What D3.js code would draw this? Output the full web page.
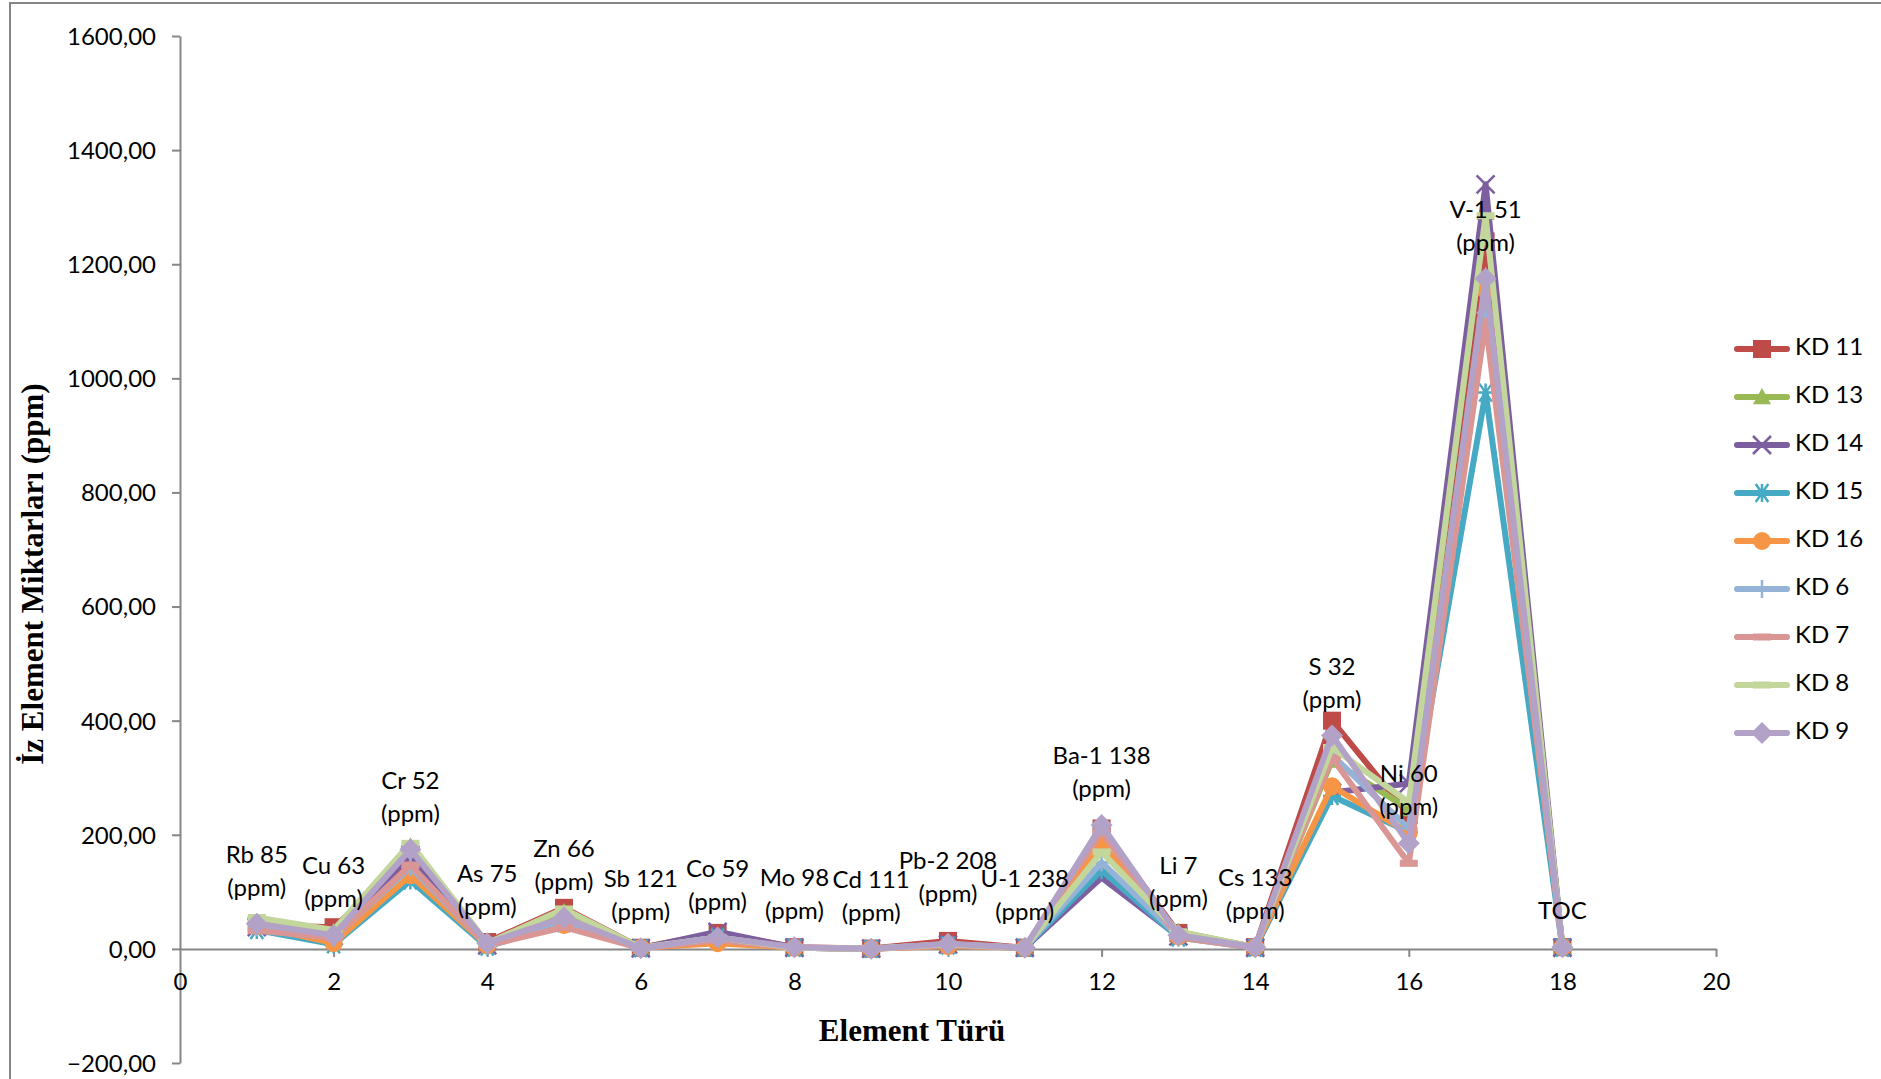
<!DOCTYPE html>
<html><head><meta charset="utf-8">
<script src="https://cdn.jsdelivr.net/npm/d3@7"></script>
<style>html,body{margin:0;padding:0;background:#fff;overflow:hidden}</style>
</head><body>
<svg id="c" width="1881" height="1079"></svg>
<script>
// ---------- DATA ----------
const categories = ["Rb 85\n(ppm)","Cu 63\n(ppm)","Cr 52\n(ppm)","As 75\n(ppm)","Zn 66\n(ppm)","Sb 121\n(ppm)",
  "Co 59\n(ppm)","Mo 98\n(ppm)","Cd 111\n(ppm)","Pb-2 208\n(ppm)","U-1 238\n(ppm)","Ba-1 138\n(ppm)",
  "Li 7\n(ppm)","Cs 133\n(ppm)","S 32\n(ppm)","Ni 60\n(ppm)","V-1 51\n(ppm)","TOC"];
const xPositions = [1,2,3,4,5,6,7,8,9,10,11,12,13,14,15,16,17,18];
const seriesNames = ["KD 11","KD 13","KD 14","KD 15","KD 16","KD 6","KD 7","KD 8","KD 9"];
const kd11 = [42,38,155,12,72,2,28,3,0.5,14,2,211,28,3,400,235,1240,3];
const kd13 = [45,30,180,8,65,2,22,2,0.5,8,2,175,30,3,330,245,1290,3];
const kd14 = [38,22,165,6,50,1,30,2,0.3,8,2,125,22,2,274,290,1340,2];
const kd15 = [33,8,120,4,45,1,20,2,0.3,6,2,138,20,2,268,205,975,2];
const kd16 = [40,10,129,6,42,2,10,2,0.4,5,2,185,22,3,285,203,1155,3];
const kd6  = [38,20,143,6,48,1,20,2,0.3,8,2,152,22,2,340,211,1115,2];
const kd7  = [32,19,147,6,38,1,15,2,0.3,6,2,205,20,2,335,150,1100,2];
const kd8  = [55,33,185,10,70,2,20,2,0.4,8,2,170,30,3,353,257,1285,3];
const kd9  = [44,24,174,10,55,1,20,3,0.4,9,2,217,24,3,374,185,1175,3];
const yTickValues = [-200,0,200,400,600,800,1000,1200,1400,1600];
const xTickValues = [0,2,4,6,8,10,12,14,16,18,20];
const xTitle = "Element Türü";
const yTitle = "İz Element Miktarları (ppm)";

// ---------- STYLE ----------
const seriesValues = [kd11,kd13,kd14,kd15,kd16,kd6,kd7,kd8,kd9];
const colors = ["#BE4B48","#98B954","#7D5FA0","#46AAC5","#F69546","#95B3D7","#D99694","#C3D69B","#B3A2C7"];
const markers = ["square","triangle","x","star","circle","plus","dash","dash","diamond"];
const labelExtraLift = [0,0,0,0,0,0,0,0,0,14,0,0,0,0,0,0,0,0]; // manual label placement (px)
const axisColor = "#868686";
const FONT = "Lato, 'Open Sans', sans-serif";

const svg = d3.select("#c");
svg.append("rect").attr("width",1881).attr("height",1079).attr("fill","#fff");
svg.append("rect").attr("x",10).attr("y",3).attr("width",1900).attr("height",1100)
  .attr("fill","none").attr("stroke",axisColor).attr("stroke-width",2);

const x = d3.scaleLinear().domain([0,20]).range([180,1716]);
const y = d3.scaleLinear().domain([-200,1600]).range([1063,36]);
const fmt = v => d3.format(".2f")(v).replace(".",",");

// Y axis
const yAx = svg.append("g").attr("transform",`translate(${x(0)},0)`)
  .call(d3.axisLeft(y).tickValues(yTickValues).tickSize(8).tickSizeOuter(0).tickPadding(16).tickFormat(fmt));
yAx.select(".domain").attr("stroke",axisColor).attr("stroke-width",2);
yAx.selectAll(".tick line").attr("stroke",axisColor).attr("stroke-width",2);
yAx.selectAll(".tick text").attr("font-family",FONT).attr("font-size",24).attr("fill","#000").attr("dy","0.35em");

// X axis at y=0
const xAx = svg.append("g").attr("transform",`translate(0,${y(0)})`)
  .call(d3.axisBottom(x).tickValues(xTickValues).tickSize(8).tickSizeOuter(0).tickPadding(12).tickFormat(d3.format("d")));
xAx.select(".domain").attr("stroke",axisColor).attr("stroke-width",2);
xAx.selectAll(".tick line").attr("stroke",axisColor).attr("stroke-width",2);
xAx.selectAll(".tick").filter(d=>d===0).select("line").remove();
xAx.selectAll(".tick text").attr("font-family",FONT).attr("font-size",24).attr("fill","#000")
  .attr("dy",null).attr("y",35).attr("dominant-baseline","middle");

// Titles
svg.append("text").attr("x",912).attr("y",1034).attr("text-anchor","middle").attr("dominant-baseline","middle")
  .attr("font-family","'Liberation Serif', 'Times New Roman', serif").attr("font-weight","bold").attr("font-size",31)
  .text(xTitle);
svg.append("text").attr("transform","translate(36,574) rotate(-90)").attr("text-anchor","middle").attr("dominant-baseline","middle")
  .attr("font-family","'Liberation Serif', 'Times New Roman', serif").attr("font-weight","bold").attr("font-size",31)
  .text(yTitle);

// Marker drawing
function drawMarker(g, type, color) {
  const s = 9;
  if (type === "square") g.append("rect").attr("x",-s).attr("y",-s).attr("width",2*s).attr("height",2*s).attr("fill",color);
  else if (type === "triangle") g.append("path").attr("d",`M0,${-s}L${s},${s*0.8}L${-s},${s*0.8}Z`).attr("fill",color);
  else if (type === "circle") g.append("circle").attr("r",s).attr("fill",color);
  else if (type === "diamond") g.append("path").attr("d",`M0,${-s-2}L${s+2},0L0,${s+2}L${-s-2},0Z`).attr("fill",color);
  else if (type === "x") g.append("path").attr("d",`M${-s},${-s}L${s},${s}M${-s},${s}L${s},${-s}`).attr("stroke",color).attr("stroke-width",2.5);
  else if (type === "star") g.append("path").attr("d",`M${-s*0.7},${-s}L${s*0.7},${s}M${-s*0.7},${s}L${s*0.7},${-s}M0,${-s}L0,${s}M${-s},0L${s},0`).attr("stroke",color).attr("stroke-width",2.5);
  else if (type === "plus") g.append("path").attr("d",`M0,${-s}L0,${s}M${-s},0L${s},0`).attr("stroke",color).attr("stroke-width",2.5);
  else if (type === "dash") g.append("rect").attr("x",-s).attr("y",-3.5).attr("width",2*s).attr("height",7).attr("fill",color);
}

const line = d3.line().x((d,i)=>x(xPositions[i])).y(d=>y(d));
const plot = svg.append("g");
seriesValues.forEach((vals,si)=>{
  const g = plot.append("g");
  g.append("path").datum(vals).attr("d",line).attr("fill","none").attr("stroke",colors[si])
    .attr("stroke-width",6).attr("stroke-linejoin","round").attr("stroke-linecap","round");
  vals.forEach((v,i)=>{
    const m = g.append("g").attr("transform",`translate(${x(xPositions[i])},${y(v)})`);
    drawMarker(m, markers[si], colors[si]);
  });
});

// Data labels (attached above KD 9 points)
const labelSeries = kd9;
categories.forEach((c,i)=>{
  const lines = c.split("\n");
  const px = x(xPositions[i]), py = y(labelSeries[i]) - labelExtraLift[i];
  const t = svg.append("text").attr("text-anchor","middle").attr("font-family",FONT).attr("font-size",24).attr("fill","#000");
  lines.forEach((ln,k)=>{
    const yy = py - 34 - (lines.length-1-k)*33;
    t.append("tspan").attr("x",px).attr("y",yy).attr("dominant-baseline","middle").text(ln);
  });
});

// Legend
const leg = svg.append("g");
seriesNames.forEach((n,i)=>{
  const yy = 349 + i*48;
  const g = leg.append("g").attr("transform",`translate(0,${yy})`);
  g.append("line").attr("x1",1737).attr("x2",1787).attr("y1",0).attr("y2",0).attr("stroke",colors[i])
    .attr("stroke-width",6).attr("stroke-linecap","round");
  const m = g.append("g").attr("transform","translate(1762,0)");
  drawMarker(m, markers[i], colors[i]);
  g.append("text").attr("x",1795).attr("y",0).attr("dominant-baseline","middle").attr("font-family",FONT)
    .attr("font-size",24).attr("fill","#000").text(n);
});
</script>
</body></html>
